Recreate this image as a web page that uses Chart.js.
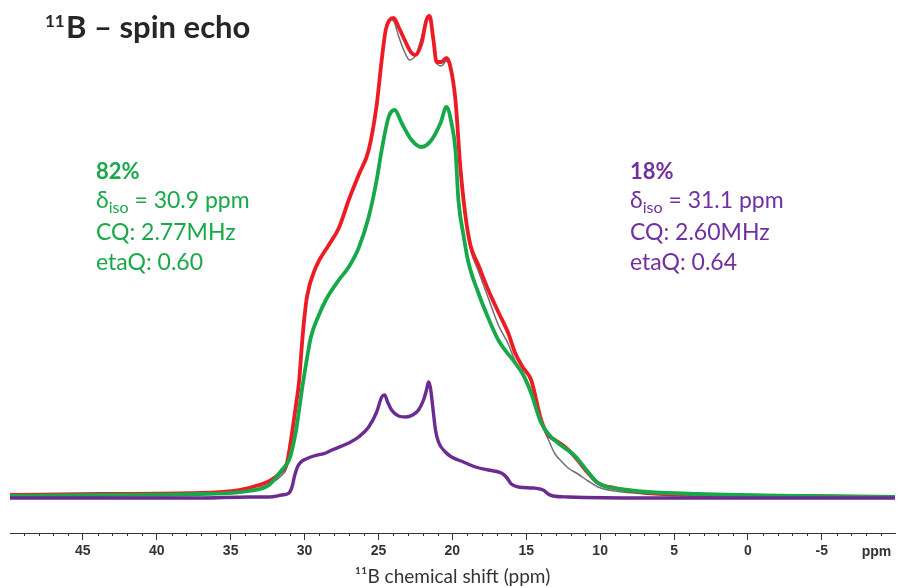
<!DOCTYPE html>
<html>
<head>
<meta charset="utf-8">
<script src="https://cdn.jsdelivr.net/npm/chart.js@4.4.1/dist/chart.umd.min.js"></script>
<style>
  body { margin: 0; background: #fff; }
  #wrap { width: 898px; height: 588px; }
</style>
</head>
<body>
<div id="wrap"><canvas id="myChart" width="898" height="588"></canvas></div>
<script>
// setup - chemical shift (ppm) and intensity (arb. units)
const grayPpm = [49.93, 43.86, 37.12, 34.42, 33.08, 32.27, 31.59, 31.19, 30.85, 30.58, 30.38, 30.17, 29.83, 29.23, 28.36, 27.68, 27.01, 26.34, 25.66, 25.12, 24.78, 24.51, 24.25, 23.97, 23.64, 23.23, 22.89, 22.49, 22.08, 21.75, 21.54, 21.28, 21.07, 20.74, 20.40, 20.13, 19.79, 19.46, 19.12, 18.78, 18.24, 17.57, 16.89, 16.22, 15.75, 15.20, 14.67, 13.99, 13.52, 13.05, 12.64, 12.17, 11.50, 10.82, 10.15, 9.00, 6.78, 3.41, -3.34, -9.95];
const grayExp = [3, 4, 5, 7, 11, 16, 23, 32, 60, 92, 115, 155, 198, 232, 254, 271, 298, 323, 348, 393, 440, 471, 480, 478, 463, 447, 439, 444, 462, 481, 482, 458, 436, 433, 438, 430, 398, 330, 280, 250, 228, 201, 174, 155, 138, 124, 108, 76, 60, 45, 38, 31, 25, 18, 12, 8, 5, 3, 2, 2];

const redPpm = [49.93, 43.86, 37.12, 34.42, 33.08, 32.27, 31.59, 31.19, 30.85, 30.58, 30.38, 30.17, 30.0, 29.83, 29.23, 28.36, 27.68, 27.01, 26.34, 25.66, 25.12, 24.78, 24.51, 24.25, 23.97, 23.64, 23.23, 22.76, 22.49, 22.08, 21.75, 21.54, 21.28, 21.07, 20.74, 20.40, 20.13, 19.79, 19.46, 19.12, 18.78, 18.24, 17.57, 16.89, 16.22, 15.75, 15.20, 14.67, 13.99, 13.52, 13.05, 12.37, 11.70, 10.82, 10.15, 9.00, 6.78, 3.41, -3.34, -9.95];
const redFit = [4, 5, 6, 9, 14, 19, 27, 36, 66, 94, 116, 156, 183, 203, 232, 254, 271, 299, 324, 349, 394, 439, 469, 479, 481, 472, 459, 446, 444, 456, 479, 483, 459, 437, 437, 441, 432, 399, 332, 284, 254, 234, 209, 187, 166, 146, 131, 119, 79, 64, 59, 52, 42, 26, 16, 11, 6, 4, 3, 2];

const greenPpm = [49.93, 43.86, 37.12, 33.75, 32.40, 31.53, 31.05, 30.85, 30.58, 30.38, 30.17, 29.90, 29.57, 29.03, 28.56, 27.68, 27.01, 26.34, 25.66, 25.12, 24.78, 24.31, 23.90, 23.43, 22.76, 22.08, 21.41, 20.80, 20.40, 20.06, 19.79, 19.59, 19.25, 18.92, 18.24, 17.57, 16.89, 15.75, 15.20, 14.67, 13.99, 13.32, 12.85, 11.70, 10.82, 10.15, 9.47, 8.13, 6.78, 3.41, -3.34, -9.95];
const greenSite = [3, 4, 5, 8, 14, 29, 39, 49, 68, 88, 110, 135, 162, 184, 199, 219, 232, 251, 282, 319, 349, 382, 389, 376, 359, 352, 359, 376, 392, 376, 349, 299, 264, 237, 206, 181, 159, 136, 124, 106, 76, 62, 56, 43, 27, 16, 12, 9, 7, 5, 3, 2];

const purplePpm = [49.93, 37.12, 33.75, 32.40, 31.53, 31.05, 30.85, 30.66, 30.45, 30.17, 29.90, 29.37, 28.56, 28.15, 27.01, 26.34, 25.66, 25.12, 24.78, 24.58, 24.38, 24.11, 23.64, 23.16, 22.69, 22.29, 21.95, 21.75, 21.61, 21.48, 21.34, 21.14, 20.94, 20.47, 20.06, 19.25, 18.44, 17.57, 16.69, 16.35, 16.01, 15.54, 14.53, 13.86, 13.52, 13.18, 12.17, 6.78, -9.95];
const purpleSite = [1, 1, 2, 2, 4, 6, 12, 24, 33, 38, 40, 43, 46, 49, 56, 62, 72, 87, 102, 104, 97, 89, 83, 82, 84, 89, 99, 109, 117, 111, 94, 69, 57, 47, 42, 37, 32, 29, 26, 22, 15, 12, 11, 9, 5, 3, 2, 1, 1];

const xMin = -9.95, xMax = 49.93;

const greenInfo = ['82%', '30.9 ppm', 'CQ: 2.77MHz', 'etaQ: 0.60'];
const purpleInfo = ['18%', '31.1 ppm', 'CQ: 2.60MHz', 'etaQ: 0.64'];

function toPoints(xs, ys) {
  return xs.map((x, i) => ({ x: x, y: ys[i] }));
}

function isMajor(v) {
  return Number.isInteger(v) && v % 5 === 0;
}

function lineSet(label, xs, ys, color, width, order) {
  return {
    label: label,
    data: toPoints(xs, ys),
    borderColor: color,
    borderWidth: width,
    pointRadius: 0,
    fill: false,
    cubicInterpolationMode: 'monotone',
    order: order
  };
}

// text blocks + minor ticks
const extras = {
  id: 'extras',
  afterDraw(chart) {
    const ctx = chart.ctx;
    const xs = chart.scales.x;
    ctx.save();

    // minor ticks every 1 ppm
    ctx.strokeStyle = '#333';
    ctx.lineWidth = 1;
    ctx.beginPath();
    for (let v = Math.ceil(xMin); v <= Math.floor(xMax); v++) {
      if (isMajor(v)) continue;
      const px = Math.round(xs.getPixelForValue(v)) + 0.5;
      ctx.moveTo(px, xs.top);
      ctx.lineTo(px, xs.top + 3);
    }
    ctx.stroke();

    // unit label at the end of the axis
    ctx.fillStyle = '#333';
    ctx.font = 'bold 14px "Liberation Sans"';
    ctx.textAlign = 'center';
    ctx.textBaseline = 'middle';
    ctx.fillText('ppm', xs.getPixelForValue(-8.7), 552);
    ctx.textAlign = 'left';

    // title
    ctx.fillStyle = '#262626';
    ctx.textBaseline = 'alphabetic';
    ctx.font = 'bold 17px Lato';
    ctx.fillText('11', 45, 27);
    ctx.font = 'bold 31px Lato';
    ctx.fillText('B \u2013 spin echo', 66, 38);

    drawInfo(ctx, 96, '#1aa84b', greenInfo);
    drawInfo(ctx, 630, '#7030a0', purpleInfo);
    ctx.restore();
  }
};

function drawInfo(ctx, x, color, info) {
  ctx.fillStyle = color;
  ctx.font = 'bold 22px Lato';
  ctx.fillText(info[0], x, 179);
  ctx.font = '23px Lato';
  ctx.fillText('\u03b4', x, 208);
  let w = ctx.measureText('\u03b4').width;
  ctx.font = '16px Lato';
  ctx.fillText('iso', x + w, 213);
  w += ctx.measureText('iso').width;
  ctx.font = '23px Lato';
  ctx.fillText(' = ' + info[1], x + w, 208);
  ctx.fillText(info[2], x, 240);
  ctx.fillText(info[3], x, 270);
}

// config
const config = {
  type: 'line',
  data: {
    datasets: [
      lineSet('experiment', grayPpm, grayExp, '#707070', 1.5, 4),
      lineSet('total fit', redPpm, redFit, '#ed1c24', 3.8, 3),
      lineSet('site 1 (82%)', greenPpm, greenSite, '#17a84a', 3.8, 2),
      lineSet('site 2 (18%)', purplePpm, purpleSite, '#6a2c91', 3.4, 1)
    ]
  },
  options: {
    responsive: false,
    animation: false,
    layout: { padding: { left: 10, right: 0, top: 0, bottom: 0 } },
    plugins: {
      legend: { display: false },
      tooltip: { enabled: false }
    },
    scales: {
      x: {
        type: 'linear',
        reverse: true,
        min: xMin,
        max: xMax,
        afterFit(scale) { scale.height = 55; },
        border: { display: true, color: '#333', width: 1 },
        grid: {
          drawOnChartArea: false,
          drawTicks: true,
          tickLength: 7,
          tickWidth: 1,
          tickColor: (c) => (c.tick && isMajor(c.tick.value)) ? '#333' : 'rgba(0,0,0,0)'
        },
        ticks: {
          stepSize: 1,
          autoSkip: false,
          maxRotation: 0,
          padding: 3,
          color: '#333',
          font: { family: 'Liberation Sans', weight: 'bold', size: 14 },
          callback: (v) => isMajor(v) ? String(v) : ''
        },
        title: {
          display: true,
          text: '\u00b9\u00b9B chemical shift (ppm)',
          color: '#333',
          font: { family: 'Lato', size: 19 },
          padding: { top: 0, bottom: 0 }
        }
      },
      y: {
        display: false,
        min: -34,
        max: 499
      }
    }
  },
  plugins: [extras]
};

// render init block
const myChart = new Chart(document.getElementById('myChart'), config);
</script>
</body>
</html>
